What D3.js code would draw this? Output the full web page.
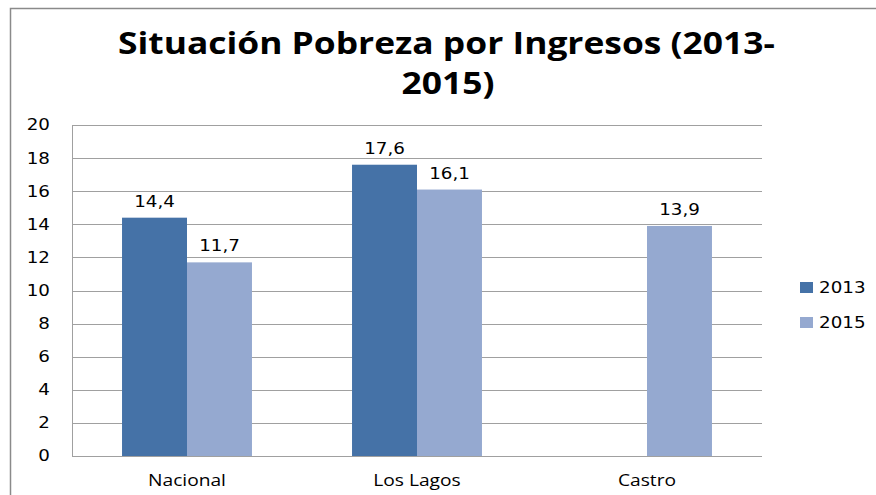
<!DOCTYPE html>
<html>
<head>
<meta charset="utf-8">
<script src="https://cdn.jsdelivr.net/npm/d3@7"></script>
<style>
  body { margin: 0; background: #fff; }
  svg { display: block; }
</style>
</head>
<body>
<script>
var categories = ["Nacional", "Los Lagos", "Castro"];
var years = ["2013", "2015"];
var values2013 = [14.4, 17.6, null];
var values2015 = [11.7, 16.1, 13.9];
var yTicks = [0, 2, 4, 6, 8, 10, 12, 14, 16, 18, 20];
var titleLines = ["Situación Pobreza por Ingresos (2013-", "2015)"];
var colors = { "2013": "#4572A7", "2015": "#95A9D0" };

var W = 876, H = 495;
var plot = { left: 72, right: 762, top: 125, bottom: 456 };
var numFont = "'DejaVu Sans', Verdana, sans-serif";
var txtFont = "'Open Sans', Calibri, sans-serif";
var titleFont = "'Liberation Sans Narrow', 'Open Sans', sans-serif";
var sx = 1.22; // the picture is stretched sideways a bit

var svg = d3.select("body").append("svg")
    .attr("width", W)
    .attr("height", H);

// outer chart frame (only left/top visible)
svg.append("rect")
    .attr("x", 10.5).attr("y", 8.5)
    .attr("width", W + 20).attr("height", H + 20)
    .attr("fill", "#fff")
    .attr("stroke", "#8a8a8a")
    .attr("stroke-width", 1.5);

function placeText(sel, x, y, s) {
    sel.attr("x", 0).attr("y", 0)
        .attr("transform", "translate(" + x + "," + y + ") scale(" + s + ",1)");
    return sel;
}

// title
var t1 = svg.append("text")
    .attr("text-anchor", "start")
    .style("font-family", titleFont)
    .style("font-weight", "bold")
    .style("font-size", "30px")
    .attr("fill", "#000")
    .text(titleLines[0]);
var natural = t1.node().getComputedTextLength();
var tsx = 657 / natural;
placeText(t1, 118, 54, tsx);
placeText(svg.append("text")
    .attr("text-anchor", "middle")
    .style("font-family", titleFont)
    .style("font-weight", "bold")
    .style("font-size", "30px")
    .attr("fill", "#000")
    .text(titleLines[1]), 448, 94, tsx);

var x0 = d3.scaleBand()
    .domain(categories)
    .range([plot.left, plot.right])
    .paddingInner(0).paddingOuter(0);

var x1 = d3.scaleBand()
    .domain(years)
    .range([0, x0.bandwidth()])
    .paddingInner(0)
    .paddingOuter(0.77);

var y = d3.scaleLinear()
    .domain([0, 20])
    .range([plot.bottom, plot.top]);

// gridlines
svg.append("g")
    .selectAll("line")
    .data(yTicks)
    .enter().append("line")
    .attr("x1", plot.left)
    .attr("x2", plot.right)
    .attr("y1", function(d) { return Math.round(y(d)) + 0.5; })
    .attr("y2", function(d) { return Math.round(y(d)) + 0.5; })
    .attr("stroke", "#a0a0a0")
    .attr("stroke-width", 1);

// left axis line
svg.append("line")
    .attr("x1", plot.left + 0.5).attr("x2", plot.left + 0.5)
    .attr("y1", Math.round(y(20)) + 0.5).attr("y2", Math.round(y(0)) + 0.5)
    .attr("stroke", "#a0a0a0");

// y tick labels
svg.append("g")
    .selectAll("text")
    .data(yTicks)
    .enter().append("text")
    .attr("text-anchor", "end")
    .attr("dy", "0.36em")
    .style("font-family", numFont)
    .style("font-size", "15px")
    .attr("fill", "#000")
    .text(function(d) { return d; })
    .each(function(d) { placeText(d3.select(this), 50, y(d), sx); });

// bars
var rows = [];
categories.forEach(function(c, i) {
    rows.push({ cat: c, year: "2013", v: values2013[i] });
    rows.push({ cat: c, year: "2015", v: values2015[i] });
});
var barRows = rows.filter(function(d) { return d.v != null; });

svg.append("g")
    .selectAll("rect")
    .data(barRows)
    .enter().append("rect")
    .attr("x", function(d) { return x0(d.cat) + x1(d.year); })
    .attr("y", function(d) { return y(d.v); })
    .attr("width", x1.bandwidth())
    .attr("height", function(d) { return y(0) - y(d.v); })
    .attr("fill", function(d) { return colors[d.year]; });

// data labels
var fmt = function(v) { return d3.format(".1f")(v).replace(".", ","); };
svg.append("g")
    .selectAll("text")
    .data(barRows)
    .enter().append("text")
    .attr("text-anchor", "middle")
    .style("font-family", numFont)
    .style("font-size", "15px")
    .attr("fill", "#000")
    .text(function(d) { return fmt(d.v); })
    .each(function(d) {
        placeText(d3.select(this), x0(d.cat) + x1(d.year) + x1.bandwidth() / 2, y(d.v) - 11, sx);
    });

// category labels
svg.append("g")
    .selectAll("text")
    .data(categories)
    .enter().append("text")
    .attr("text-anchor", "middle")
    .style("font-family", txtFont)
    .style("font-size", "16px")
    .attr("fill", "#000")
    .text(function(d) { return d; })
    .each(function(d) { placeText(d3.select(this), x0(d) + x0.bandwidth() / 2, 486, 1.2); });

// legend
var legend = svg.append("g")
    .selectAll("g")
    .data(years)
    .enter().append("g")
    .attr("transform", function(d, i) { return "translate(800," + (282 + i * 35) + ")"; });

legend.append("rect")
    .attr("width", 13)
    .attr("height", 11)
    .attr("fill", function(d) { return colors[d]; });

legend.append("text")
    .style("font-family", numFont)
    .style("font-size", "15px")
    .attr("fill", "#000")
    .text(function(d) { return d; })
    .each(function() { placeText(d3.select(this), 19, 11, sx); });
</script>
</body>
</html>
